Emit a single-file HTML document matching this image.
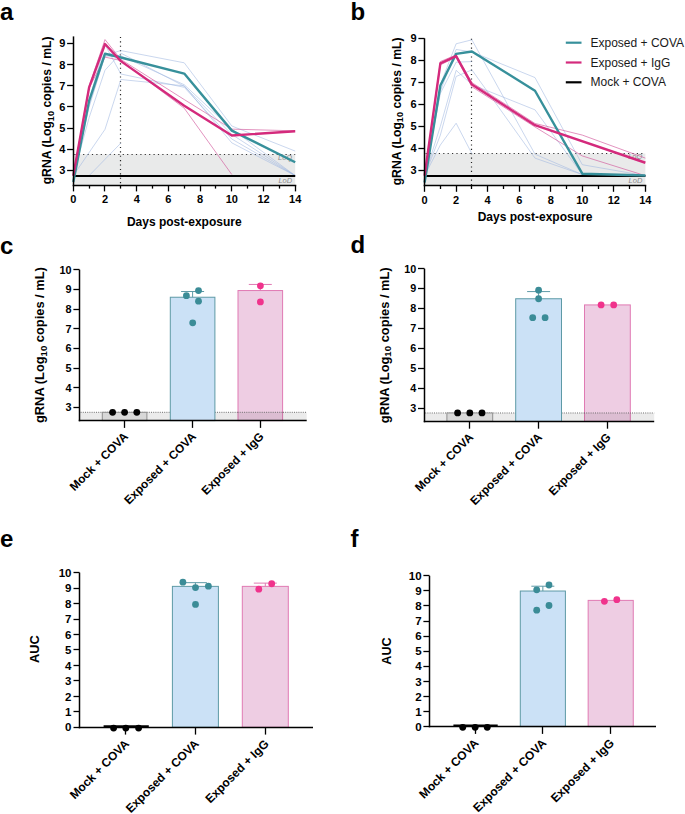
<!DOCTYPE html>
<html><head><meta charset="utf-8"><style>
html,body{margin:0;padding:0;background:#fff;}
svg{display:block;font-family:"Liberation Sans", sans-serif;}
</style></head><body>
<svg width="685" height="814" viewBox="0 0 685 814">
<rect x="0" y="0" width="685" height="814" fill="#fff"/>
<text x="0" y="20.4" font-size="24" font-weight="700" text-anchor="start" fill="#000" >a</text>
<text x="350.5" y="19.7" font-size="24" font-weight="700" text-anchor="start" fill="#000" >b</text>
<text x="0" y="253.5" font-size="24" font-weight="700" text-anchor="start" fill="#000" >c</text>
<text x="350.5" y="253" font-size="24" font-weight="700" text-anchor="start" fill="#000" >d</text>
<text x="0" y="547" font-size="24" font-weight="700" text-anchor="start" fill="#000" >e</text>
<text x="350.5" y="547" font-size="24" font-weight="700" text-anchor="start" fill="#000" >f</text>
<rect x="73.3" y="154.27" width="221.9" height="30.83" fill="#e9eaea"/>
<line x1="74.3" y1="154.5" x2="295.2" y2="154.5" stroke="#333" stroke-width="1.2" stroke-dasharray="1.2 3.2"/>
<line x1="120.5" y1="36.9" x2="120.5" y2="185.1" stroke="#222" stroke-width="1.2" stroke-dasharray="1.1 3.3"/>
<text x="292.2" y="159.57" font-size="7.5" font-weight="400" text-anchor="end" fill="#8a8a8a" font-style="italic">LoQ</text>
<text x="292.2" y="183.1" font-size="7.5" font-weight="400" text-anchor="end" fill="#8a8a8a" font-style="italic">LoD</text>
<polyline points="73.3,175.6 89.15,106.96 105,55.22 120.85,50.57 184.25,62.82 231.8,125.97 295.2,151.1" fill="none" stroke="#9fb8e0" stroke-width="0.7" stroke-linejoin="round" stroke-linecap="butt" opacity="0.8"/>
<polyline points="73.3,175.6 89.15,104.85 105,56.27 120.85,55.85 184.25,84.78 231.8,129.14 295.2,175.6" fill="none" stroke="#9fb8e0" stroke-width="0.7" stroke-linejoin="round" stroke-linecap="butt" opacity="0.8"/>
<polyline points="73.3,175.6 105,129.35 120.85,79.5 184.25,85.84 231.8,142.86 295.2,175.6" fill="none" stroke="#9fb8e0" stroke-width="0.7" stroke-linejoin="round" stroke-linecap="butt" opacity="0.8"/>
<polyline points="73.3,175.6 89.15,100.62 105,44.66 120.85,74.01 184.25,87.32 231.8,139.06 295.2,175.6" fill="none" stroke="#9fb8e0" stroke-width="0.7" stroke-linejoin="round" stroke-linecap="butt" opacity="0.8"/>
<polyline points="89.15,175.6 120.85,143.08" fill="none" stroke="#9fb8e0" stroke-width="0.7" stroke-linejoin="round" stroke-linecap="butt" opacity="0.8"/>
<polyline points="73.3,175.6 89.15,117.52 105,70.21 120.85,53.1 184.25,86.26 231.8,134.42 295.2,175.6" fill="none" stroke="#9fb8e0" stroke-width="0.7" stroke-linejoin="round" stroke-linecap="butt" opacity="0.8"/>
<polyline points="73.3,175.6 89.15,85.84 105,39.59 120.85,59.44 184.25,99.57 231.8,129.14 295.2,130.83" fill="none" stroke="#d1559a" stroke-width="0.8" stroke-linejoin="round" stroke-linecap="butt" opacity="0.8"/>
<polyline points="73.3,175.6 89.15,87.95 105,57.12 120.85,60.5 184.25,108.23 231.8,174.54" fill="none" stroke="#d1559a" stroke-width="0.8" stroke-linejoin="round" stroke-linecap="butt" opacity="0.8"/>
<line x1="73.3" y1="176" x2="295.2" y2="176" stroke="#000" stroke-width="2.2" />
<polyline points="73.3,181.94 89.15,100.62 105,53.74 120.85,57.54 184.25,73.59 231.8,130.61 295.2,162.29" fill="none" stroke="#37909b" stroke-width="2.4" stroke-linejoin="round" stroke-linecap="butt" opacity="1.0"/>
<polyline points="73.3,175.6 89.15,87.32 105,44.02 120.85,61.13 184.25,105.69 231.8,135.47 295.2,131.25" fill="none" stroke="#d42a7c" stroke-width="2.4" stroke-linejoin="round" stroke-linecap="butt" opacity="1.0"/>
<line x1="73.5" y1="36.4" x2="73.5" y2="186.25" stroke="#000" stroke-width="1.5" />
<line x1="72.75" y1="185.5" x2="296.25" y2="185.5" stroke="#000" stroke-width="1.5" />
<line x1="67.1" y1="170.5" x2="73.5" y2="170.5" stroke="#000" stroke-width="1.3" />
<text x="65.3" y="174.12" font-size="11" font-weight="700" text-anchor="end" fill="#000" >3</text>
<line x1="67.1" y1="149.5" x2="73.5" y2="149.5" stroke="#000" stroke-width="1.3" />
<text x="65.3" y="153" font-size="11" font-weight="700" text-anchor="end" fill="#000" >4</text>
<line x1="67.1" y1="128.5" x2="73.5" y2="128.5" stroke="#000" stroke-width="1.3" />
<text x="65.3" y="131.88" font-size="11" font-weight="700" text-anchor="end" fill="#000" >5</text>
<line x1="67.1" y1="106.5" x2="73.5" y2="106.5" stroke="#000" stroke-width="1.3" />
<text x="65.3" y="110.76" font-size="11" font-weight="700" text-anchor="end" fill="#000" >6</text>
<line x1="67.1" y1="85.5" x2="73.5" y2="85.5" stroke="#000" stroke-width="1.3" />
<text x="65.3" y="89.64" font-size="11" font-weight="700" text-anchor="end" fill="#000" >7</text>
<line x1="67.1" y1="64.5" x2="73.5" y2="64.5" stroke="#000" stroke-width="1.3" />
<text x="65.3" y="68.52" font-size="11" font-weight="700" text-anchor="end" fill="#000" >8</text>
<line x1="67.1" y1="43.5" x2="73.5" y2="43.5" stroke="#000" stroke-width="1.3" />
<text x="65.3" y="47.4" font-size="11" font-weight="700" text-anchor="end" fill="#000" >9</text>
<line x1="73.5" y1="185.5" x2="73.5" y2="191.4" stroke="#000" stroke-width="1.3" />
<text x="73.3" y="203.2" font-size="11" font-weight="700" text-anchor="middle" fill="#000" >0</text>
<line x1="89.5" y1="185.5" x2="89.5" y2="188.6" stroke="#000" stroke-width="1.3" />
<line x1="104.5" y1="185.5" x2="104.5" y2="191.4" stroke="#000" stroke-width="1.3" />
<text x="105" y="203.2" font-size="11" font-weight="700" text-anchor="middle" fill="#000" >2</text>
<line x1="120.5" y1="185.5" x2="120.5" y2="188.6" stroke="#000" stroke-width="1.3" />
<line x1="136.5" y1="185.5" x2="136.5" y2="191.4" stroke="#000" stroke-width="1.3" />
<text x="136.7" y="203.2" font-size="11" font-weight="700" text-anchor="middle" fill="#000" >4</text>
<line x1="152.5" y1="185.5" x2="152.5" y2="188.6" stroke="#000" stroke-width="1.3" />
<line x1="168.5" y1="185.5" x2="168.5" y2="191.4" stroke="#000" stroke-width="1.3" />
<text x="168.4" y="203.2" font-size="11" font-weight="700" text-anchor="middle" fill="#000" >6</text>
<line x1="184.5" y1="185.5" x2="184.5" y2="188.6" stroke="#000" stroke-width="1.3" />
<line x1="200.5" y1="185.5" x2="200.5" y2="191.4" stroke="#000" stroke-width="1.3" />
<text x="200.1" y="203.2" font-size="11" font-weight="700" text-anchor="middle" fill="#000" >8</text>
<line x1="215.5" y1="185.5" x2="215.5" y2="188.6" stroke="#000" stroke-width="1.3" />
<line x1="231.5" y1="185.5" x2="231.5" y2="191.4" stroke="#000" stroke-width="1.3" />
<text x="231.8" y="203.2" font-size="11" font-weight="700" text-anchor="middle" fill="#000" >10</text>
<line x1="247.5" y1="185.5" x2="247.5" y2="188.6" stroke="#000" stroke-width="1.3" />
<line x1="263.5" y1="185.5" x2="263.5" y2="191.4" stroke="#000" stroke-width="1.3" />
<text x="263.5" y="203.2" font-size="11" font-weight="700" text-anchor="middle" fill="#000" >12</text>
<line x1="279.5" y1="185.5" x2="279.5" y2="188.6" stroke="#000" stroke-width="1.3" />
<line x1="295.5" y1="185.5" x2="295.5" y2="191.4" stroke="#000" stroke-width="1.3" />
<text x="295.2" y="203.2" font-size="11" font-weight="700" text-anchor="middle" fill="#000" >14</text>
<text x="184.25" y="226" font-size="12" font-weight="700" text-anchor="middle" fill="#000" >Days post-exposure</text>
<text transform="translate(51.2,110.4) rotate(-90)" font-size="12.2" font-weight="700" text-anchor="middle">gRNA (Log<tspan font-size="9.149999999999999" dy="2.68">10</tspan><tspan dy="-2.68"> copies / mL)</tspan></text>
<rect x="424.6" y="153.52" width="220.78" height="31.98" fill="#e9eaea"/>
<line x1="425.6" y1="153.5" x2="645.38" y2="153.5" stroke="#333" stroke-width="1.2" stroke-dasharray="1.2 3.2"/>
<line x1="471.5" y1="38.8" x2="471.5" y2="185.5" stroke="#222" stroke-width="1.2" stroke-dasharray="1.1 3.3"/>
<text x="642.38" y="158.82" font-size="7.5" font-weight="400" text-anchor="end" fill="#8a8a8a" font-style="italic">LoQ</text>
<text x="642.38" y="183.19" font-size="7.5" font-weight="400" text-anchor="end" fill="#8a8a8a" font-style="italic">LoD</text>
<polyline points="424.6,175.69 440.37,84.59 456.14,43.77 471.91,39.82 534.99,154.18 582.3,174.59 645.38,175.69" fill="none" stroke="#9fb8e0" stroke-width="0.7" stroke-linejoin="round" stroke-linecap="butt" opacity="0.8"/>
<polyline points="424.6,175.69 440.37,91.18 456.14,49.48 471.91,51.89 534.99,77.57 582.3,164.71 645.38,175.69" fill="none" stroke="#9fb8e0" stroke-width="0.7" stroke-linejoin="round" stroke-linecap="butt" opacity="0.8"/>
<polyline points="424.6,175.69 440.37,93.38 456.14,62.21 471.91,61.55" fill="none" stroke="#9fb8e0" stroke-width="0.7" stroke-linejoin="round" stroke-linecap="butt" opacity="0.8"/>
<polyline points="424.6,175.69 440.37,126.3 456.14,70.33 471.91,84.59 534.99,109.84 582.3,174.59 645.38,175.69" fill="none" stroke="#9fb8e0" stroke-width="0.7" stroke-linejoin="round" stroke-linecap="butt" opacity="0.8"/>
<polyline points="424.6,175.69 440.37,135.08 456.14,76.47 471.91,69.89 534.99,158.13 582.3,174.59 645.38,175.69" fill="none" stroke="#9fb8e0" stroke-width="0.7" stroke-linejoin="round" stroke-linecap="butt" opacity="0.8"/>
<polyline points="424.6,175.69 440.37,144.96 456.14,123.23 471.91,153.74" fill="none" stroke="#9fb8e0" stroke-width="0.7" stroke-linejoin="round" stroke-linecap="butt" opacity="0.8"/>
<polyline points="424.6,175.69 440.37,61.55 456.14,54.96 471.91,82.62 534.99,123.45 582.3,135.08 645.38,158.13" fill="none" stroke="#d1559a" stroke-width="0.8" stroke-linejoin="round" stroke-linecap="butt" opacity="0.8"/>
<polyline points="424.6,175.69 440.37,64.84 456.14,57.16 471.91,86.79 534.99,126.96 582.3,155.93 645.38,175.69" fill="none" stroke="#d1559a" stroke-width="0.8" stroke-linejoin="round" stroke-linecap="butt" opacity="0.8"/>
<line x1="424.6" y1="176" x2="645.38" y2="176" stroke="#000" stroke-width="2.2" />
<polyline points="424.6,182.49 440.37,85.47 456.14,53.86 471.91,51.45 534.99,90.74 582.3,173.71 645.38,175.47" fill="none" stroke="#37909b" stroke-width="2.4" stroke-linejoin="round" stroke-linecap="butt" opacity="1.0"/>
<polyline points="424.6,175.69 440.37,63.3 456.14,56.06 471.91,84.59 534.99,125.2 645.38,162.74" fill="none" stroke="#d42a7c" stroke-width="2.4" stroke-linejoin="round" stroke-linecap="butt" opacity="1.0"/>
<line x1="424.5" y1="38.3" x2="424.5" y2="186.25" stroke="#000" stroke-width="1.5" />
<line x1="423.75" y1="185.5" x2="646.25" y2="185.5" stroke="#000" stroke-width="1.5" />
<line x1="418.4" y1="170.5" x2="424.5" y2="170.5" stroke="#000" stroke-width="1.3" />
<text x="416.6" y="174" font-size="11" font-weight="700" text-anchor="end" fill="#000" >3</text>
<line x1="418.4" y1="148.5" x2="424.5" y2="148.5" stroke="#000" stroke-width="1.3" />
<text x="416.6" y="152.05" font-size="11" font-weight="700" text-anchor="end" fill="#000" >4</text>
<line x1="418.4" y1="126.5" x2="424.5" y2="126.5" stroke="#000" stroke-width="1.3" />
<text x="416.6" y="130.1" font-size="11" font-weight="700" text-anchor="end" fill="#000" >5</text>
<line x1="418.4" y1="104.5" x2="424.5" y2="104.5" stroke="#000" stroke-width="1.3" />
<text x="416.6" y="108.15" font-size="11" font-weight="700" text-anchor="end" fill="#000" >6</text>
<line x1="418.4" y1="82.5" x2="424.5" y2="82.5" stroke="#000" stroke-width="1.3" />
<text x="416.6" y="86.2" font-size="11" font-weight="700" text-anchor="end" fill="#000" >7</text>
<line x1="418.4" y1="60.5" x2="424.5" y2="60.5" stroke="#000" stroke-width="1.3" />
<text x="416.6" y="64.25" font-size="11" font-weight="700" text-anchor="end" fill="#000" >8</text>
<line x1="418.4" y1="38.5" x2="424.5" y2="38.5" stroke="#000" stroke-width="1.3" />
<text x="416.6" y="42.3" font-size="11" font-weight="700" text-anchor="end" fill="#000" >9</text>
<line x1="424.5" y1="185.5" x2="424.5" y2="191.8" stroke="#000" stroke-width="1.3" />
<text x="424.6" y="204" font-size="11" font-weight="700" text-anchor="middle" fill="#000" >0</text>
<line x1="440.5" y1="185.5" x2="440.5" y2="189" stroke="#000" stroke-width="1.3" />
<line x1="456.5" y1="185.5" x2="456.5" y2="191.8" stroke="#000" stroke-width="1.3" />
<text x="456.14" y="204" font-size="11" font-weight="700" text-anchor="middle" fill="#000" >2</text>
<line x1="471.5" y1="185.5" x2="471.5" y2="189" stroke="#000" stroke-width="1.3" />
<line x1="487.5" y1="185.5" x2="487.5" y2="191.8" stroke="#000" stroke-width="1.3" />
<text x="487.68" y="204" font-size="11" font-weight="700" text-anchor="middle" fill="#000" >4</text>
<line x1="503.5" y1="185.5" x2="503.5" y2="189" stroke="#000" stroke-width="1.3" />
<line x1="519.5" y1="185.5" x2="519.5" y2="191.8" stroke="#000" stroke-width="1.3" />
<text x="519.22" y="204" font-size="11" font-weight="700" text-anchor="middle" fill="#000" >6</text>
<line x1="534.5" y1="185.5" x2="534.5" y2="189" stroke="#000" stroke-width="1.3" />
<line x1="550.5" y1="185.5" x2="550.5" y2="191.8" stroke="#000" stroke-width="1.3" />
<text x="550.76" y="204" font-size="11" font-weight="700" text-anchor="middle" fill="#000" >8</text>
<line x1="566.5" y1="185.5" x2="566.5" y2="189" stroke="#000" stroke-width="1.3" />
<line x1="582.5" y1="185.5" x2="582.5" y2="191.8" stroke="#000" stroke-width="1.3" />
<text x="582.3" y="204" font-size="11" font-weight="700" text-anchor="middle" fill="#000" >10</text>
<line x1="598.5" y1="185.5" x2="598.5" y2="189" stroke="#000" stroke-width="1.3" />
<line x1="613.5" y1="185.5" x2="613.5" y2="191.8" stroke="#000" stroke-width="1.3" />
<text x="613.84" y="204" font-size="11" font-weight="700" text-anchor="middle" fill="#000" >12</text>
<line x1="629.5" y1="185.5" x2="629.5" y2="189" stroke="#000" stroke-width="1.3" />
<line x1="645.5" y1="185.5" x2="645.5" y2="191.8" stroke="#000" stroke-width="1.3" />
<text x="645.38" y="204" font-size="11" font-weight="700" text-anchor="middle" fill="#000" >14</text>
<text x="534.99" y="221.2" font-size="12" font-weight="700" text-anchor="middle" fill="#000" >Days post-exposure</text>
<text transform="translate(400.6,111.4) rotate(-90)" font-size="12.2" font-weight="700" text-anchor="middle">gRNA (Log<tspan font-size="9.149999999999999" dy="2.68">10</tspan><tspan dy="-2.68"> copies / mL)</tspan></text>
<rect x="79.6" y="412.31" width="227.1" height="8.29" fill="#ebebeb"/>
<line x1="80.6" y1="412.31" x2="306.7" y2="412.31" stroke="#606060" stroke-width="0.9" stroke-dasharray="1 1.2"/>
<rect x="102.3" y="412.31" width="44.6" height="8.29" fill="#d8d8d8" stroke="#8f8f8f" stroke-width="1"/>
<rect x="170.3" y="297.24" width="44.6" height="123.36" fill="#cbe1f6" stroke="#5e9aa6" stroke-width="1"/>
<rect x="238" y="290.55" width="44.6" height="130.05" fill="#eecde3" stroke="#e07ab3" stroke-width="1"/>
<rect x="237.5" y="412.31" width="45.6" height="8.29" fill="#000" fill-opacity="0.075"/>
<line x1="237.5" y1="412.31" x2="283.1" y2="412.31" stroke="#606060" stroke-width="0.9" stroke-dasharray="1 1.2"/>
<line x1="192.6" y1="297.24" x2="192.6" y2="291.53" stroke="#5e9aa6" stroke-width="1" />
<line x1="181.1" y1="291.53" x2="204.1" y2="291.53" stroke="#5e9aa6" stroke-width="1" />
<line x1="260.3" y1="290.55" x2="260.3" y2="284.45" stroke="#e07ab3" stroke-width="1" />
<line x1="248.8" y1="284.45" x2="271.8" y2="284.45" stroke="#e07ab3" stroke-width="1" />
<circle cx="112.6" cy="412.31" r="3.4" fill="#000"/>
<circle cx="124.6" cy="412.31" r="3.4" fill="#000"/>
<circle cx="136.8" cy="412.31" r="3.4" fill="#000"/>
<circle cx="186.4" cy="295.66" r="3.4" fill="#3b8c97"/>
<circle cx="198.5" cy="290.55" r="3.4" fill="#3b8c97"/>
<circle cx="198.5" cy="301.17" r="3.4" fill="#3b8c97"/>
<circle cx="192.7" cy="322.81" r="3.4" fill="#3b8c97"/>
<circle cx="260.4" cy="285.83" r="3.4" fill="#f0338c"/>
<circle cx="260.4" cy="301.96" r="3.4" fill="#f0338c"/>
<line x1="79.5" y1="269.7" x2="79.5" y2="421.25" stroke="#000" stroke-width="1.5" />
<line x1="78.75" y1="420.5" x2="306.7" y2="420.5" stroke="#000" stroke-width="1.5" />
<line x1="73.4" y1="407.5" x2="79.5" y2="407.5" stroke="#000" stroke-width="1.3" />
<text x="71.6" y="411.28" font-size="10.8" font-weight="700" text-anchor="end" fill="#000" >3</text>
<line x1="73.4" y1="387.5" x2="79.5" y2="387.5" stroke="#000" stroke-width="1.3" />
<text x="71.6" y="391.61" font-size="10.8" font-weight="700" text-anchor="end" fill="#000" >4</text>
<line x1="73.4" y1="368.5" x2="79.5" y2="368.5" stroke="#000" stroke-width="1.3" />
<text x="71.6" y="371.94" font-size="10.8" font-weight="700" text-anchor="end" fill="#000" >5</text>
<line x1="73.4" y1="348.5" x2="79.5" y2="348.5" stroke="#000" stroke-width="1.3" />
<text x="71.6" y="352.27" font-size="10.8" font-weight="700" text-anchor="end" fill="#000" >6</text>
<line x1="73.4" y1="328.5" x2="79.5" y2="328.5" stroke="#000" stroke-width="1.3" />
<text x="71.6" y="332.6" font-size="10.8" font-weight="700" text-anchor="end" fill="#000" >7</text>
<line x1="73.4" y1="309.5" x2="79.5" y2="309.5" stroke="#000" stroke-width="1.3" />
<text x="71.6" y="312.93" font-size="10.8" font-weight="700" text-anchor="end" fill="#000" >8</text>
<line x1="73.4" y1="289.5" x2="79.5" y2="289.5" stroke="#000" stroke-width="1.3" />
<text x="71.6" y="293.26" font-size="10.8" font-weight="700" text-anchor="end" fill="#000" >9</text>
<line x1="73.4" y1="269.5" x2="79.5" y2="269.5" stroke="#000" stroke-width="1.3" />
<text x="71.6" y="273.59" font-size="10.8" font-weight="700" text-anchor="end" fill="#000" >10</text>
<line x1="124.5" y1="420.5" x2="124.5" y2="427.9" stroke="#000" stroke-width="1.3" />
<line x1="192.5" y1="420.5" x2="192.5" y2="427.9" stroke="#000" stroke-width="1.3" />
<line x1="260.5" y1="420.5" x2="260.5" y2="427.9" stroke="#000" stroke-width="1.3" />
<text transform="translate(128.8,437.2) rotate(-45)" font-size="11.8" font-weight="700" text-anchor="end">Mock + COVA</text>
<text transform="translate(196.8,437.2) rotate(-45)" font-size="11.8" font-weight="700" text-anchor="end">Exposed + COVA</text>
<text transform="translate(264.5,437.2) rotate(-45)" font-size="11.8" font-weight="700" text-anchor="end">Exposed + IgG</text>
<text transform="translate(44.3,345.1) rotate(-90)" font-size="12.85" font-weight="700" text-anchor="middle">gRNA (Log<tspan font-size="9.6375" dy="2.83">10</tspan><tspan dy="-2.83"> copies / mL)</tspan></text>
<rect x="424.2" y="412.97" width="230" height="8.43" fill="#ebebeb"/>
<line x1="425.2" y1="412.97" x2="654.2" y2="412.97" stroke="#606060" stroke-width="0.9" stroke-dasharray="1 1.2"/>
<rect x="446.9" y="412.97" width="45.8" height="8.43" fill="#d8d8d8" stroke="#8f8f8f" stroke-width="1"/>
<rect x="515.7" y="298.75" width="45.8" height="122.65" fill="#cbe1f6" stroke="#5e9aa6" stroke-width="1"/>
<rect x="584.5" y="304.92" width="45.8" height="116.48" fill="#eecde3" stroke="#e07ab3" stroke-width="1"/>
<rect x="584" y="412.97" width="46.8" height="8.43" fill="#000" fill-opacity="0.075"/>
<line x1="584" y1="412.97" x2="630.8" y2="412.97" stroke="#606060" stroke-width="0.9" stroke-dasharray="1 1.2"/>
<line x1="538.6" y1="298.75" x2="538.6" y2="291.59" stroke="#5e9aa6" stroke-width="1" />
<line x1="527.1" y1="291.59" x2="550.1" y2="291.59" stroke="#5e9aa6" stroke-width="1" />
<circle cx="457.6" cy="412.97" r="3.4" fill="#000"/>
<circle cx="469.8" cy="412.97" r="3.4" fill="#000"/>
<circle cx="482" cy="412.97" r="3.4" fill="#000"/>
<circle cx="538.6" cy="290.19" r="3.4" fill="#3b8c97"/>
<circle cx="538.6" cy="298.75" r="3.4" fill="#3b8c97"/>
<circle cx="532.7" cy="317.65" r="3.4" fill="#3b8c97"/>
<circle cx="545.1" cy="317.65" r="3.4" fill="#3b8c97"/>
<circle cx="601.1" cy="304.92" r="3.4" fill="#f0338c"/>
<circle cx="613.7" cy="304.92" r="3.4" fill="#f0338c"/>
<line x1="424.5" y1="268.7" x2="424.5" y2="422.25" stroke="#000" stroke-width="1.5" />
<line x1="423.75" y1="421.5" x2="654.2" y2="421.5" stroke="#000" stroke-width="1.5" />
<line x1="418" y1="408.5" x2="424.5" y2="408.5" stroke="#000" stroke-width="1.3" />
<text x="416.2" y="411.89" font-size="10.8" font-weight="700" text-anchor="end" fill="#000" >3</text>
<line x1="418" y1="388.5" x2="424.5" y2="388.5" stroke="#000" stroke-width="1.3" />
<text x="416.2" y="391.99" font-size="10.8" font-weight="700" text-anchor="end" fill="#000" >4</text>
<line x1="418" y1="368.5" x2="424.5" y2="368.5" stroke="#000" stroke-width="1.3" />
<text x="416.2" y="372.09" font-size="10.8" font-weight="700" text-anchor="end" fill="#000" >5</text>
<line x1="418" y1="348.5" x2="424.5" y2="348.5" stroke="#000" stroke-width="1.3" />
<text x="416.2" y="352.19" font-size="10.8" font-weight="700" text-anchor="end" fill="#000" >6</text>
<line x1="418" y1="328.5" x2="424.5" y2="328.5" stroke="#000" stroke-width="1.3" />
<text x="416.2" y="332.29" font-size="10.8" font-weight="700" text-anchor="end" fill="#000" >7</text>
<line x1="418" y1="308.5" x2="424.5" y2="308.5" stroke="#000" stroke-width="1.3" />
<text x="416.2" y="312.39" font-size="10.8" font-weight="700" text-anchor="end" fill="#000" >8</text>
<line x1="418" y1="288.5" x2="424.5" y2="288.5" stroke="#000" stroke-width="1.3" />
<text x="416.2" y="292.49" font-size="10.8" font-weight="700" text-anchor="end" fill="#000" >9</text>
<line x1="418" y1="268.5" x2="424.5" y2="268.5" stroke="#000" stroke-width="1.3" />
<text x="416.2" y="272.59" font-size="10.8" font-weight="700" text-anchor="end" fill="#000" >10</text>
<line x1="469.5" y1="421.5" x2="469.5" y2="428.7" stroke="#000" stroke-width="1.3" />
<line x1="538.5" y1="421.5" x2="538.5" y2="428.7" stroke="#000" stroke-width="1.3" />
<line x1="607.5" y1="421.5" x2="607.5" y2="428.7" stroke="#000" stroke-width="1.3" />
<text transform="translate(474,438) rotate(-45)" font-size="11.8" font-weight="700" text-anchor="end">Mock + COVA</text>
<text transform="translate(542.8,438) rotate(-45)" font-size="11.8" font-weight="700" text-anchor="end">Exposed + COVA</text>
<text transform="translate(611.6,438) rotate(-45)" font-size="11.8" font-weight="700" text-anchor="end">Exposed + IgG</text>
<text transform="translate(388.5,345.3) rotate(-90)" font-size="12.85" font-weight="700" text-anchor="middle">gRNA (Log<tspan font-size="9.6375" dy="2.83">10</tspan><tspan dy="-2.83"> copies / mL)</tspan></text>
<line x1="103.6" y1="726.4" x2="148.8" y2="726.4" stroke="#000" stroke-width="2.4" />
<rect x="172.4" y="586.37" width="46" height="140.93" fill="#cbe1f6" stroke="#5e9aa6" stroke-width="1"/>
<rect x="242.3" y="586.37" width="46" height="140.93" fill="#eecde3" stroke="#e07ab3" stroke-width="1"/>
<line x1="195.4" y1="586.37" x2="195.4" y2="582.66" stroke="#5e9aa6" stroke-width="1" />
<line x1="183.9" y1="582.66" x2="206.9" y2="582.66" stroke="#5e9aa6" stroke-width="1" />
<line x1="265.3" y1="586.37" x2="265.3" y2="583.12" stroke="#e07ab3" stroke-width="1" />
<line x1="253.8" y1="583.12" x2="276.8" y2="583.12" stroke="#e07ab3" stroke-width="1" />
<circle cx="113.6" cy="728.07" r="3.4" fill="#000"/>
<circle cx="125.8" cy="728.07" r="3.4" fill="#000"/>
<circle cx="138.6" cy="728.07" r="3.4" fill="#000"/>
<circle cx="182.9" cy="582.19" r="3.4" fill="#3b8c97"/>
<circle cx="195.5" cy="587.61" r="3.4" fill="#3b8c97"/>
<circle cx="208.4" cy="586.21" r="3.4" fill="#3b8c97"/>
<circle cx="195.5" cy="604.47" r="3.4" fill="#3b8c97"/>
<circle cx="258.8" cy="589.15" r="3.4" fill="#f0338c"/>
<circle cx="271.7" cy="583.74" r="3.4" fill="#f0338c"/>
<line x1="79.5" y1="572.6" x2="79.5" y2="728.25" stroke="#000" stroke-width="1.5" />
<line x1="78.75" y1="727.5" x2="313" y2="727.5" stroke="#000" stroke-width="1.5" />
<line x1="73.5" y1="727.5" x2="79.5" y2="727.5" stroke="#000" stroke-width="1.3" />
<text x="71.5" y="731.44" font-size="11.5" font-weight="700" text-anchor="end" fill="#000" >0</text>
<line x1="73.5" y1="711.5" x2="79.5" y2="711.5" stroke="#000" stroke-width="1.3" />
<text x="71.5" y="715.97" font-size="11.5" font-weight="700" text-anchor="end" fill="#000" >1</text>
<line x1="73.5" y1="696.5" x2="79.5" y2="696.5" stroke="#000" stroke-width="1.3" />
<text x="71.5" y="700.5" font-size="11.5" font-weight="700" text-anchor="end" fill="#000" >2</text>
<line x1="73.5" y1="680.5" x2="79.5" y2="680.5" stroke="#000" stroke-width="1.3" />
<text x="71.5" y="685.03" font-size="11.5" font-weight="700" text-anchor="end" fill="#000" >3</text>
<line x1="73.5" y1="665.5" x2="79.5" y2="665.5" stroke="#000" stroke-width="1.3" />
<text x="71.5" y="669.56" font-size="11.5" font-weight="700" text-anchor="end" fill="#000" >4</text>
<line x1="73.5" y1="649.5" x2="79.5" y2="649.5" stroke="#000" stroke-width="1.3" />
<text x="71.5" y="654.09" font-size="11.5" font-weight="700" text-anchor="end" fill="#000" >5</text>
<line x1="73.5" y1="634.5" x2="79.5" y2="634.5" stroke="#000" stroke-width="1.3" />
<text x="71.5" y="638.62" font-size="11.5" font-weight="700" text-anchor="end" fill="#000" >6</text>
<line x1="73.5" y1="619.5" x2="79.5" y2="619.5" stroke="#000" stroke-width="1.3" />
<text x="71.5" y="623.15" font-size="11.5" font-weight="700" text-anchor="end" fill="#000" >7</text>
<line x1="73.5" y1="603.5" x2="79.5" y2="603.5" stroke="#000" stroke-width="1.3" />
<text x="71.5" y="607.68" font-size="11.5" font-weight="700" text-anchor="end" fill="#000" >8</text>
<line x1="73.5" y1="588.5" x2="79.5" y2="588.5" stroke="#000" stroke-width="1.3" />
<text x="71.5" y="592.21" font-size="11.5" font-weight="700" text-anchor="end" fill="#000" >9</text>
<line x1="73.5" y1="572.5" x2="79.5" y2="572.5" stroke="#000" stroke-width="1.3" />
<text x="71.5" y="576.74" font-size="11.5" font-weight="700" text-anchor="end" fill="#000" >10</text>
<line x1="125.5" y1="727.5" x2="125.5" y2="734.6" stroke="#000" stroke-width="1.3" />
<line x1="195.5" y1="727.5" x2="195.5" y2="734.6" stroke="#000" stroke-width="1.3" />
<line x1="265.5" y1="727.5" x2="265.5" y2="734.6" stroke="#000" stroke-width="1.3" />
<text transform="translate(130,744.6) rotate(-45)" font-size="12" font-weight="700" text-anchor="end">Mock + COVA</text>
<text transform="translate(199.6,744.6) rotate(-45)" font-size="12" font-weight="700" text-anchor="end">Exposed + COVA</text>
<text transform="translate(269.5,744.6) rotate(-45)" font-size="12" font-weight="700" text-anchor="end">Exposed + IgG</text>
<text transform="translate(39,649.2) rotate(-90)" font-size="12.8" font-weight="700" text-anchor="middle">AUC</text>
<line x1="453.4" y1="725.7" x2="497.7" y2="725.7" stroke="#000" stroke-width="2.4" />
<rect x="520.3" y="591.03" width="45.1" height="135.57" fill="#cbe1f6" stroke="#5e9aa6" stroke-width="1"/>
<rect x="588.15" y="600.38" width="45.1" height="126.22" fill="#eecde3" stroke="#e07ab3" stroke-width="1"/>
<line x1="542.85" y1="591.03" x2="542.85" y2="586.21" stroke="#5e9aa6" stroke-width="1" />
<line x1="531.35" y1="586.21" x2="554.35" y2="586.21" stroke="#5e9aa6" stroke-width="1" />
<circle cx="462.75" cy="727.35" r="3.4" fill="#000"/>
<circle cx="475.15" cy="727.35" r="3.4" fill="#000"/>
<circle cx="487.25" cy="727.35" r="3.4" fill="#000"/>
<circle cx="536.7" cy="589.82" r="3.4" fill="#3b8c97"/>
<circle cx="549" cy="585" r="3.4" fill="#3b8c97"/>
<circle cx="549" cy="605.51" r="3.4" fill="#3b8c97"/>
<circle cx="536.7" cy="610.18" r="3.4" fill="#3b8c97"/>
<circle cx="604.4" cy="601.29" r="3.4" fill="#f0338c"/>
<circle cx="616.8" cy="599.63" r="3.4" fill="#f0338c"/>
<line x1="429.5" y1="575.8" x2="429.5" y2="727.25" stroke="#000" stroke-width="1.5" />
<line x1="428.75" y1="726.5" x2="656" y2="726.5" stroke="#000" stroke-width="1.5" />
<line x1="423.4" y1="726.5" x2="429.5" y2="726.5" stroke="#000" stroke-width="1.3" />
<text x="421.6" y="730.74" font-size="11.5" font-weight="700" text-anchor="end" fill="#000" >0</text>
<line x1="423.4" y1="711.5" x2="429.5" y2="711.5" stroke="#000" stroke-width="1.3" />
<text x="421.6" y="715.66" font-size="11.5" font-weight="700" text-anchor="end" fill="#000" >1</text>
<line x1="423.4" y1="696.5" x2="429.5" y2="696.5" stroke="#000" stroke-width="1.3" />
<text x="421.6" y="700.58" font-size="11.5" font-weight="700" text-anchor="end" fill="#000" >2</text>
<line x1="423.4" y1="681.5" x2="429.5" y2="681.5" stroke="#000" stroke-width="1.3" />
<text x="421.6" y="685.5" font-size="11.5" font-weight="700" text-anchor="end" fill="#000" >3</text>
<line x1="423.4" y1="666.5" x2="429.5" y2="666.5" stroke="#000" stroke-width="1.3" />
<text x="421.6" y="670.42" font-size="11.5" font-weight="700" text-anchor="end" fill="#000" >4</text>
<line x1="423.4" y1="651.5" x2="429.5" y2="651.5" stroke="#000" stroke-width="1.3" />
<text x="421.6" y="655.34" font-size="11.5" font-weight="700" text-anchor="end" fill="#000" >5</text>
<line x1="423.4" y1="636.5" x2="429.5" y2="636.5" stroke="#000" stroke-width="1.3" />
<text x="421.6" y="640.26" font-size="11.5" font-weight="700" text-anchor="end" fill="#000" >6</text>
<line x1="423.4" y1="621.5" x2="429.5" y2="621.5" stroke="#000" stroke-width="1.3" />
<text x="421.6" y="625.18" font-size="11.5" font-weight="700" text-anchor="end" fill="#000" >7</text>
<line x1="423.4" y1="605.5" x2="429.5" y2="605.5" stroke="#000" stroke-width="1.3" />
<text x="421.6" y="610.1" font-size="11.5" font-weight="700" text-anchor="end" fill="#000" >8</text>
<line x1="423.4" y1="590.5" x2="429.5" y2="590.5" stroke="#000" stroke-width="1.3" />
<text x="421.6" y="595.02" font-size="11.5" font-weight="700" text-anchor="end" fill="#000" >9</text>
<line x1="423.4" y1="575.5" x2="429.5" y2="575.5" stroke="#000" stroke-width="1.3" />
<text x="421.6" y="579.94" font-size="11.5" font-weight="700" text-anchor="end" fill="#000" >10</text>
<line x1="475.5" y1="726.5" x2="475.5" y2="733.9" stroke="#000" stroke-width="1.3" />
<line x1="542.5" y1="726.5" x2="542.5" y2="733.9" stroke="#000" stroke-width="1.3" />
<line x1="610.5" y1="726.5" x2="610.5" y2="733.9" stroke="#000" stroke-width="1.3" />
<text transform="translate(479.35,743.9) rotate(-45)" font-size="12" font-weight="700" text-anchor="end">Mock + COVA</text>
<text transform="translate(547.05,743.9) rotate(-45)" font-size="12" font-weight="700" text-anchor="end">Exposed + COVA</text>
<text transform="translate(614.9,743.9) rotate(-45)" font-size="12" font-weight="700" text-anchor="end">Exposed + IgG</text>
<text transform="translate(390.5,651) rotate(-90)" font-size="12.6" font-weight="700" text-anchor="middle">AUC</text>
<line x1="565.8" y1="42.7" x2="581.5" y2="42.7" stroke="#37909b" stroke-width="2.2" />
<text x="590.5" y="46.8" font-size="12" font-weight="400" text-anchor="start" fill="#1a1a1a" >Exposed + COVA</text>
<line x1="565.8" y1="62.5" x2="581.5" y2="62.5" stroke="#d42a7c" stroke-width="2.2" />
<text x="590.5" y="66.6" font-size="12" font-weight="400" text-anchor="start" fill="#1a1a1a" >Exposed + IgG</text>
<line x1="565.8" y1="82.3" x2="581.5" y2="82.3" stroke="#000" stroke-width="2.2" />
<text x="590.5" y="86.4" font-size="12" font-weight="400" text-anchor="start" fill="#1a1a1a" >Mock + COVA</text>
</svg></body></html>
